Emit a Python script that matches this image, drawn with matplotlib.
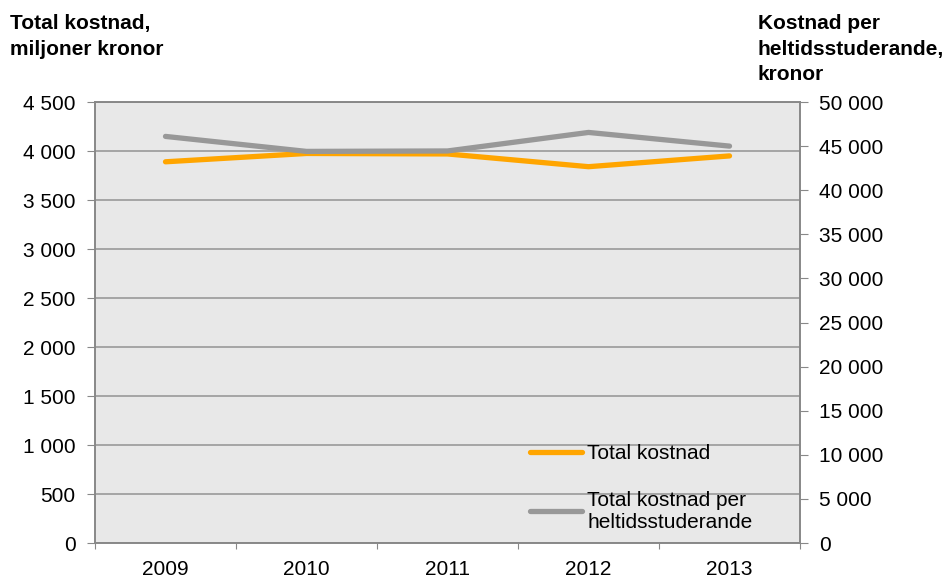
import matplotlib.pyplot as plt
import numpy as np

plt.rcParams['font.family'] = ['Liberation Sans', 'DejaVu Sans']

years = ['2009', '2010', '2011', '2012', '2013']
total_kostnad = [3890, 3975, 3970, 3840, 3950]
kostnad_per_student = [46100, 44400, 44450, 46550, 45000]

def sv(v, pos=None):
    return f"{int(v):,}".replace(",", " ")

fs = 15

fig = plt.figure(figsize=(9.47, 5.77), dpi=100)
ax = fig.add_axes([0.1003, 0.0589, 0.7445, 0.7643])
ax2 = ax.twinx()

ax.set_facecolor('#E8E8E8')
x = np.arange(len(years))

l1, = ax.plot(x, total_kostnad, color='#FFA500', lw=3.8, solid_capstyle='round',
              label='Total kostnad', zorder=3)
l2, = ax2.plot(x, kostnad_per_student, color='#989898', lw=3.8, solid_capstyle='round',
               label='Total kostnad per\nheltidsstuderande', zorder=3)

ax.set_xlim(-0.5, len(years) - 0.5)
ax.set_ylim(0, 4500)
ax2.set_ylim(0, 50000)
ax.set_yticks(np.arange(0, 4501, 500))
ax2.set_yticks(np.arange(0, 50001, 5000))
ax.yaxis.set_major_formatter(plt.FuncFormatter(sv))
ax2.yaxis.set_major_formatter(plt.FuncFormatter(sv))
ax.grid(axis='y', color='#999999', lw=1.2)
ax.set_axisbelow(True)

ax.set_xticks(np.arange(-0.5, len(years)), labels=[])
ax.set_xticks(x, labels=years, minor=True)
ax.tick_params(axis='x', which='major', length=4.5, color='#888888')
ax.tick_params(axis='x', which='minor', length=0, labelsize=fs, pad=12)
ax.tick_params(axis='y', length=6, color='#888888', labelsize=fs, pad=8)
ax2.tick_params(axis='y', length=6, color='#888888', labelsize=fs, pad=8)

for a in (ax, ax2):
    for s in a.spines.values():
        s.set_color('#888888')
        s.set_linewidth(1.2)

fig.text(0.011, 0.976, 'Total kostnad,\nmiljoner kronor', fontsize=fs,
         fontweight='bold', va='top', ha='left', linespacing=1.45)
fig.text(0.80, 0.976, 'Kostnad per\nheltidsstuderande,\nkronor', fontsize=fs,
         fontweight='bold', va='top', ha='left', linespacing=1.45)

ax.legend(handles=[l1, l2], loc='lower left', bbox_to_anchor=(0.601, 0.0),
          frameon=False, fontsize=fs, handlelength=2.5, handletextpad=0.25,
          labelspacing=1.3, borderaxespad=0.15)

fig.savefig('out.png', dpi=100)
